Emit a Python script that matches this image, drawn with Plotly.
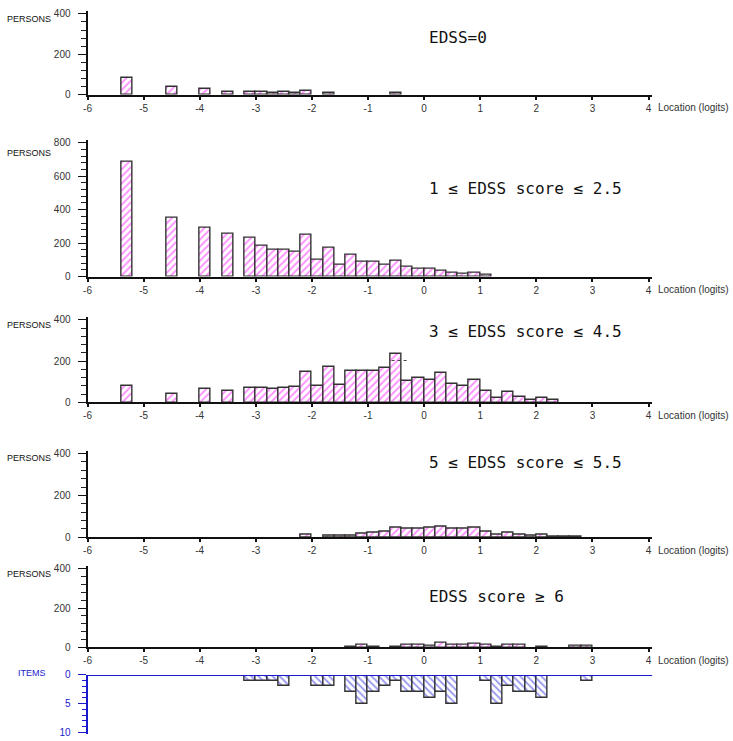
import plotly.graph_objects as go

# ---------------- data ----------------
edss0_x = [-5.3, -4.5, -3.9, -3.5, -3.1, -2.9, -2.7, -2.5, -2.3, -2.1, -1.7, -0.5]
edss0_y = [81, 39, 29, 11, 11, 11, 6, 11, 6, 16, 6, 6]

edss1_x = [-5.3, -4.5, -3.9, -3.5, -3.1, -2.9, -2.7, -2.5, -2.3, -2.1, -1.9, -1.7, -1.5,
           -1.3, -1.1, -0.9, -0.7, -0.5, -0.3, -0.1, 0.1, 0.3, 0.5, 0.7, 0.9, 1.1]
edss1_y = [685, 352, 293, 256, 233, 186, 162, 162, 147, 247, 102, 170, 72,
           129, 90, 90, 72, 96, 59, 49, 45, 37, 25, 16, 22, 10]

edss3_x = [-5.3, -4.5, -3.9, -3.5, -3.1, -2.9, -2.7, -2.5, -2.3, -2.1, -1.9, -1.7, -1.5,
           -1.3, -1.1, -0.9, -0.7, -0.5, -0.3, -0.1, 0.1, 0.3, 0.5, 0.7, 0.9, 1.1,
           1.3, 1.5, 1.7, 1.9, 2.1, 2.3]
edss3_y = [82, 40, 68, 54, 73, 73, 66, 71, 76, 147, 81, 174, 87,
           152, 155, 152, 169, 236, 106, 119, 109, 142, 90, 81, 111, 54,
           21, 49, 25, 13, 21, 13]

edss5_x = [-2.1, -1.7, -1.5, -1.3, -1.1, -0.9, -0.7, -0.5, -0.3, -0.1, 0.1, 0.3, 0.5,
           0.7, 0.9, 1.1, 1.3, 1.5, 1.7, 1.9, 2.1, 2.3, 2.5, 2.7]
edss5_y = [10, 8, 8, 8, 19, 23, 29, 47, 43, 42, 47, 51, 40,
           40, 47, 28, 14, 23, 14, 6, 14, 5, 5, 5]

edss6_x = [-1.3, -1.1, -0.9, -0.5, -0.3, -0.1, 0.1, 0.3, 0.5, 0.7, 0.9, 1.1, 1.3,
           1.5, 1.7, 2.1, 2.7, 2.9]
edss6_y = [5, 12, 5, 5, 15, 13, 8, 23, 12, 13, 18, 13, 5,
           12, 15, 5, 6, 6]

items_x = [-3.1, -2.9, -2.7, -2.5, -1.9, -1.7, -1.3, -1.1, -0.9, -0.7, -0.5, -0.3,
           -0.1, 0.1, 0.3, 0.5, 1.1, 1.3, 1.5, 1.7, 1.9, 2.1, 2.9]
items_y = [1, 1, 1, 2, 2, 2, 3, 5, 3, 2, 1, 3,
           3, 4, 3, 5, 1, 5, 2, 3, 3, 4, 1]

panel_labels = ["EDSS=0", "1 ≤ EDSS score ≤ 2.5", "3 ≤ EDSS score ≤ 4.5",
                "5 ≤ EDSS score ≤ 5.5", "EDSS score ≥ 6"]
x_ticks = [-6, -5, -4, -3, -2, -1, 0, 1, 2, 3, 4]
bin_width = 0.2

# ---------------- layout geometry (pixels) ----------------
W, H = 733, 741
X_LEFT, X_RIGHT = 84, 652
# (pixel of y=0, pixel of axis top, y max value, major dtick)
panels_px = [(90, 5, 415, 200), (275, 136, 818, 200), (403, 316, 414, 200),
             (540, 452, 414, 200), (652, 569, 415, 200)]
persons_py = [13, 149, 324, 459, 577]
ITEMS_TOP, ITEMS_BOT, ITEMS_MAX = 680, 740, 10.3

def py(p):
    return 1 - p / H

data_sets = [(edss0_x, edss0_y), (edss1_x, edss1_y), (edss3_x, edss3_y),
             (edss5_x, edss5_y), (edss6_x, edss6_y)]

fig = go.Figure()
FONT = "Liberation Sans, Arial, sans-serif"
tickfont = dict(family=FONT, size=10, color="#333333")
blue = "#1a1acc"

layout = dict(width=W, height=H, margin=dict(l=0, r=0, t=0, b=0),
              paper_bgcolor="white", plot_bgcolor="rgba(0,0,0,0)",
              showlegend=False, bargap=0)
annotations = []
shapes = []

for i, ((xs, ys), (p0, ptop, ymax, dt), pp) in enumerate(
        zip(data_sets, panels_px, persons_py), start=1):
    sfx = "" if i == 1 else str(i)
    fig.add_trace(go.Bar(
        x=xs, y=ys, width=bin_width, xaxis="x" + sfx, yaxis="y" + sfx,
        marker=dict(color="white", line=dict(color="#333333", width=1.4),
                    pattern=dict(shape="/", fgcolor="#ff22ff", bgcolor="white",
                                 size=5, solidity=0.38)),
        hoverinfo="x+y"))
    layout["xaxis" + sfx] = dict(
        domain=[X_LEFT / W, X_RIGHT / W], range=[-6, 4.07], anchor="y" + sfx,
        tickmode="array", tickvals=x_ticks, ticktext=[str(t) for t in x_ticks],
        showline=True, linewidth=2, linecolor="#111111", ticks="outside",
        ticklen=3, tickwidth=1.5, tickcolor="#111111", showgrid=False,
        zeroline=False, tickfont=tickfont, fixedrange=True)
    layout["yaxis" + sfx] = dict(
        domain=[py(p0), py(ptop)], range=[0, ymax], anchor="x" + sfx,
        tickmode="linear", tick0=0, dtick=dt, showline=True, linewidth=2,
        linecolor="#111111", ticks="outside", ticklen=8, tickwidth=1.3,
        tickcolor="#111111", showgrid=False, zeroline=False, tickfont=tickfont,
        ticklabelstandoff=5,
        minor=dict(dtick=40, ticks="outside", ticklen=5, tickwidth=1.3,
                   tickcolor="#222222", showgrid=False),
        fixedrange=True)
    annotations.append(dict(x=1 / W, y=py(pp), xref="paper", yref="paper",
                            text="PERSONS", showarrow=False, xanchor="left", yanchor="middle",
                            font=dict(family=FONT, size=9, color="#111111")))
    annotations.append(dict(x=656 / W, y=py(p0 + 13), xref="paper", yref="paper",
                            text="Location (logits)", showarrow=False, xanchor="left",
                            yanchor="middle", font=tickfont))

title_py = [32, 186, 331, 464, 600]
for lab, tp in zip(panel_labels, title_py):
    annotations.append(dict(x=425 / W, y=py(tp), xref="paper", yref="paper", text=lab,
                            showarrow=False, xanchor="left", yanchor="middle",
                            font=dict(family="DejaVu Sans Mono, monospace", size=16,
                                      color="#111111")))

# items panel
fig.add_trace(go.Bar(
    x=items_x, y=items_y, width=bin_width, xaxis="x5", yaxis="y6",
    marker=dict(color="white", line=dict(color="#333333", width=1.4),
                pattern=dict(shape="\\", fgcolor="#3030e0", bgcolor="white",
                             size=5, solidity=0.36)),
    hoverinfo="x+y"))
layout["yaxis6"] = dict(
    domain=[py(ITEMS_BOT), py(ITEMS_TOP)], range=[ITEMS_MAX, 0], anchor="x5",
    tickmode="linear", tick0=0, dtick=5, showline=True, linewidth=2, linecolor=blue,
    ticks="outside", ticklen=8, tickwidth=1.3, tickcolor=blue, showgrid=False,
    zeroline=False, tickfont=dict(family=FONT, size=10, color=blue),
    ticklabelstandoff=5,
    minor=dict(dtick=1, ticks="outside", ticklen=4, tickwidth=1, tickcolor=blue),
    fixedrange=True)
shapes.append(dict(type="line", xref="x5", yref="y6", x0=-6, x1=4.07, y0=0, y1=0,
                   line=dict(color=blue, width=2), layer="above"))
annotations.append(dict(x=12 / W, y=py(678), xref="paper", yref="paper", text="ITEMS",
                        showarrow=False, xanchor="left", yanchor="middle",
                        font=dict(family=FONT, size=9, color=blue)))
shapes.append(dict(type="line", xref="x3", yref="y3", x0=-0.58, x1=-0.3, y0=203, y1=203,
                   line=dict(color="#444444", width=1, dash="dot"), layer="above"))

layout["annotations"] = annotations
layout["shapes"] = shapes
fig.update_layout(**layout)
fig.write_html("out.html")
